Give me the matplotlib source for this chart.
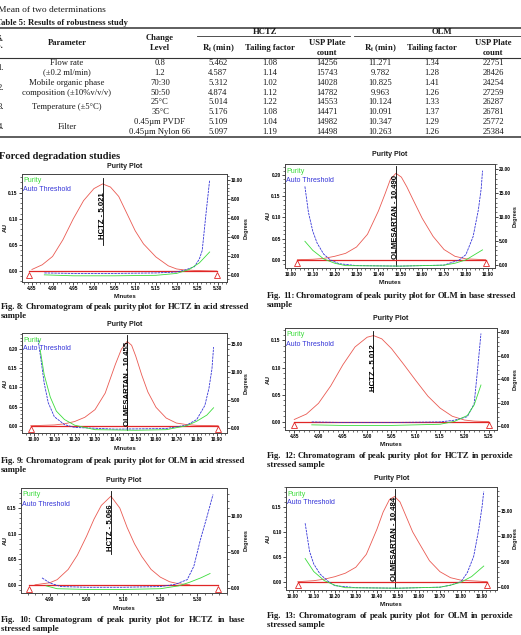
import matplotlib
matplotlib.use("Agg")
import matplotlib.pyplot as plt
from matplotlib.lines import Line2D
from matplotlib.ticker import AutoMinorLocator

W, H = 521, 635

# ---- Table 5 values ----
row_no = ["1.", "2.", "3.", "4."]
parameters = ["Flow rate", "(±0.2 ml/min)", "Mobile organic phase", "composition (±10%v/v/v)",
              "Temperature (±5°C)", "Filter"]
change_level = ["0.8", "1.2", "70:30", "50:50", "25°C", "35°C", "0.45µm PVDF", "0.45µm Nylon 66"]
hctz_rt = ["5.462", "4.587", "5.312", "4.874", "5.014", "5.176", "5.109", "5.097"]
hctz_tailing = ["1.08", "1.14", "1.02", "1.12", "1.22", "1.08", "1.04", "1.19"]
hctz_plates = ["14256", "15743", "14028", "14782", "14553", "14471", "14982", "14498"]
olm_rt = ["11.271", "9.782", "10.825", "9.963", "10.124", "10.091", "10.347", "10.263"]
olm_tailing = ["1.34", "1.28", "1.41", "1.26", "1.33", "1.37", "1.29", "1.26"]
olm_plates = ["22751", "28426", "24254", "27259", "26287", "26781", "25772", "25384"]

# ---- Fig. 8 HCTZ acid ----
f8_peak_x = [4.850, 4.875, 4.900, 4.925, 4.950, 4.975, 5.000, 5.021, 5.040, 5.060, 5.080, 5.100,
             5.120, 5.150, 5.180, 5.200, 5.220, 5.250, 5.297]
f8_peak_y = [0.003, 0.012, 0.028, 0.060, 0.100, 0.135, 0.158, 0.167, 0.161, 0.143, 0.110, 0.077,
             0.052, 0.027, 0.010, 0.004, 0.002, 0.001, 0.000]
f8_thr_x = [4.880, 4.950, 5.050, 5.150, 5.200, 5.220, 5.243, 5.255, 5.262, 5.272, 5.280]
f8_thr_y = [0.25, 0.20, 0.20, 0.25, 0.35, 0.55, 0.90, 1.70, 2.60, 6.80, 10.0]
f8_pur_x = [4.880, 4.950, 5.050, 5.150, 5.200, 5.230, 5.255, 5.280]
f8_pur_y = [0.05, -0.05, -0.05, 0.00, 0.20, 0.60, 1.30, 2.45]
f8_ends = [4.844, 5.297]

# ---- Fig. 9 OLM acid ----
f9_peak_x = [9.984, 10.10, 10.15, 10.20, 10.25, 10.30, 10.35, 10.40, 10.43, 10.458, 10.48, 10.50,
             10.53, 10.56, 10.60, 10.65, 10.70, 10.75, 10.80, 10.905]
f9_peak_y = [0.000, 0.002, 0.005, 0.011, 0.022, 0.042, 0.085, 0.160, 0.200, 0.220, 0.210, 0.182,
             0.132, 0.088, 0.048, 0.020, 0.007, 0.003, 0.001, 0.000]
f9_thr_x = [10.020, 10.035, 10.050, 10.070, 10.100, 10.150, 10.200, 10.400, 10.650, 10.750, 10.800,
            10.840, 10.860, 10.875, 10.883]
f9_thr_y = [15.7, 12.0, 8.0, 4.5, 2.0, 0.6, 0.1, -0.2, -0.1, 0.5, 1.5, 4.0, 7.0, 10.5, 14.4]
f9_pur_x = [10.030, 10.050, 10.080, 10.110, 10.150, 10.200, 10.300, 10.500, 10.650, 10.750, 10.800,
            10.850, 10.883]
f9_pur_y = [14.0, 9.5, 5.5, 3.0, 1.5, 0.5, -0.3, -0.4, -0.3, 0.4, 1.2, 2.3, 3.6]
f9_ends = [9.984, 10.905]

# ---- Fig. 10 HCTZ base ----
f10_peak_x = [4.860, 4.900, 4.920, 4.950, 4.975, 5.000, 5.020, 5.040, 5.066, 5.090, 5.110, 5.130,
              5.150, 5.175, 5.200, 5.225, 5.250, 5.280]
f10_peak_y = [0.000, 0.004, 0.010, 0.030, 0.058, 0.095, 0.128, 0.155, 0.173, 0.150, 0.112, 0.080,
              0.055, 0.030, 0.015, 0.006, 0.002, 0.000]
f10_thr_x = [4.879, 4.900, 4.930, 5.000, 5.100, 5.200, 5.240, 5.273, 5.291, 5.309, 5.327, 5.343]
f10_thr_y = [1.4, 0.7, 0.2, 0.1, 0.1, 0.2, 0.5, 1.15, 3.0, 6.7, 9.9, 12.9]
f10_pur_x = [4.890, 4.920, 5.000, 5.100, 5.200, 5.250, 5.280, 5.310, 5.335]
f10_pur_y = [0.3, -0.1, -0.2, -0.2, -0.1, 0.3, 0.8, 1.4, 2.0]
f10_ends = [4.845, 5.356]

# ---- Fig. 11 OLM base ----
f11_peak_x = [10.030, 10.100, 10.150, 10.200, 10.250, 10.300, 10.350, 10.400, 10.430, 10.455,
              10.480, 10.505, 10.530, 10.560, 10.600, 10.650, 10.700, 10.750, 10.800, 10.890]
f11_peak_y = [0.000, 0.001, 0.003, 0.008, 0.015, 0.030, 0.060, 0.115, 0.155, 0.190,
              0.204, 0.195, 0.172, 0.140, 0.098, 0.055, 0.024, 0.008, 0.002, 0.000]
f11_thr_x = [10.064, 10.080, 10.100, 10.120, 10.150, 10.180, 10.220, 10.300, 10.500, 10.700,
             10.770, 10.800, 10.833, 10.857, 10.870, 10.876]
f11_thr_y = [16.4, 11.0, 7.0, 4.5, 2.2, 1.0, 0.2, -0.2, -0.3, -0.1, 1.0, 2.1, 5.9, 11.5, 16.0, 19.7]
f11_pur_x = [10.064, 10.100, 10.150, 10.200, 10.250, 10.500, 10.700, 10.750, 10.800, 10.876]
f11_pur_y = [4.9, 3.0, 1.2, 0.3, -0.2, -0.3, -0.1, 0.3, 1.0, 3.1]
f11_ends = [10.030, 10.890]

# ---- Fig. 12 HCTZ peroxide ----
f12_peak_x = [4.850, 4.875, 4.900, 4.925, 4.950, 4.975, 5.000, 5.013, 5.030, 5.050, 5.075, 5.100,
              5.125, 5.150, 5.175, 5.200, 5.220, 5.250]
f12_peak_y = [0.004, 0.014, 0.034, 0.066, 0.105, 0.138, 0.156, 0.159, 0.153, 0.135, 0.106, 0.076,
              0.047, 0.025, 0.010, 0.003, 0.001, 0.000]
f12_thr_x = [4.886, 4.950, 5.050, 5.150, 5.180, 5.206, 5.220, 5.227, 5.234]
f12_thr_y = [0.35, 0.30, 0.30, 0.35, 0.50, 0.80, 1.90, 4.80, 7.90]
f12_pur_x = [4.886, 4.950, 5.050, 5.150, 5.180, 5.206, 5.220, 5.234]
f12_pur_y = [0.10, 0.05, 0.05, 0.15, 0.40, 0.90, 1.80, 3.50]
f12_ends = [4.850, 5.250]

# ---- Fig. 13 OLM peroxide ----
f13_peak_x = [10.024, 10.100, 10.150, 10.200, 10.250, 10.300, 10.350, 10.400, 10.430, 10.460,
              10.484, 10.510, 10.540, 10.570, 10.600, 10.650, 10.700, 10.750, 10.800, 10.924]
f13_peak_y = [0.000, 0.002, 0.005, 0.010, 0.017, 0.029, 0.055, 0.105, 0.140, 0.165,
              0.171, 0.160, 0.130, 0.100, 0.078, 0.042, 0.020, 0.008, 0.003, 0.000]
f13_thr_x = [10.059, 10.080, 10.100, 10.130, 10.170, 10.200, 10.300, 10.500, 10.700, 10.750,
             10.800, 10.830, 10.860, 10.884, 10.900, 10.908]
f13_thr_y = [12.6, 7.0, 4.5, 2.5, 1.0, 0.2, -0.2, -0.3, -0.1, 0.3, 1.0, 2.8, 6.0, 11.3, 15.9, 18.9]
f13_pur_x = [10.059, 10.100, 10.150, 10.200, 10.250, 10.500, 10.700, 10.750, 10.800, 10.850, 10.908]
f13_pur_y = [5.6, 3.0, 1.2, 0.3, -0.2, -0.3, -0.1, 0.3, 0.9, 2.0, 4.1]
f13_ends = [10.024, 10.924]

SERIF = ["Liberation Serif", "DejaVu Serif"]
NARROW = ["Liberation Sans Narrow", "Liberation Sans", "DejaVu Sans"]
plt.rcParams["mathtext.fontset"] = "stix"


def fx(x):
    return x / W


def fy(y):
    return 1 - y / H


fig = plt.figure(figsize=(W / 100, H / 100), dpi=100)
fig.patch.set_facecolor("white")


def put(x, y, s, size=6.2, weight="normal", ha="center", family=SERIF, color="#1a1a1a", **kw):
    return fig.text(fx(x), fy(y), s, fontsize=size, fontweight=weight, ha=ha, va="center",
                    family=family, color=color, **kw)


def hline(y, x0, x1, lw=0.8):
    fig.add_artist(Line2D([fx(x0), fx(x1)], [fy(y), fy(y)], transform=fig.transFigure,
                          color="#333333", lw=lw))


def justify(s, x0, x1, y, size, weight="bold"):
    # spread the words of a caption line over the full column width
    words = s.split()
    texts = [put(0, y, w, size=size, weight=weight, ha="left") for w in words]
    rend = fig.canvas.get_renderer()
    widths = [t.get_window_extent(rend).width for t in texts]
    gap = max((x1 - x0 - sum(widths)) / (len(words) - 1), 1.5)
    x = x0
    for t, w in zip(texts, widths):
        t.set_x(fx(x))
        x += w + gap


CAP = 6.3

# page text above the table
put(-2, 10, "Mean of two determinations", size=6.8, ha="left")
put(-4, 23, "Table 5: Results of robustness study", size=6.2, weight="bold", ha="left")

# table rules
hline(28.3, 0, W, lw=1.1)
hline(36, 197, 350, lw=0.6)
hline(36, 354, W, lw=0.6)
hline(57.7, 0, W, lw=0.8)
hline(137.3, 0, W, lw=1.1)

# table header
hb = dict(size=6.2, weight="bold")
put(3, 39, "S.", ha="right", **hb)
put(4, 46, "No.", ha="right", **hb)
put(67, 43.3, "Parameter", **hb)
put(160, 38.3, "Change", **hb)
put(160, 48.3, "Level", **hb)
put(265, 32, "HCTZ", **hb)
put(442, 32, "OLM", **hb)
rt_label = r"$\mathbf{R_t}$ (min)"
for cx, ccx, ucx in [(218, 270, 327), (380, 432, 493)]:
    put(cx, 48.3, rt_label, **hb)
    put(ccx, 48.3, "Tailing factor", **hb)
    put(ucx, 43.3, "USP Plate", **hb)
    put(ucx, 52.7, "count", **hb)

# table body
row_y = [62.7 + 9.94 * i for i in range(8)]
for i, s in enumerate(row_no):
    put(4, (row_y[2 * i] + row_y[2 * i + 1]) / 2, s, ha="right")
param_y = [row_y[0], row_y[1], row_y[2], row_y[3], (row_y[4] + row_y[5]) / 2, (row_y[6] + row_y[7]) / 2]
for s, y in zip(parameters, param_y):
    put(67, y, s)
for col, cx in [(change_level, 160), (hctz_rt, 218), (hctz_tailing, 270), (hctz_plates, 327),
                (olm_rt, 380), (olm_tailing, 432), (olm_plates, 493)]:
    for s, y in zip(col, row_y):
        put(cx, y, s)

put(-1, 156, "Forced degradation studies", size=7.6, weight="bold", ha="left")

panels = [
    dict(rect=(22, 174, 227, 282), xlim=(4.826, 5.322), ylim=(-0.021, 0.186), y2lim=(-0.70, 10.63),
         xt=[4.85 + 0.05 * i for i in range(10)], yt=[0, 0.05, 0.10, 0.15], yfmt="%.2f",
         y2t=[0, 2, 4, 6, 8, 10], peak=(f8_peak_x, f8_peak_y), thr=(f8_thr_x, f8_thr_y),
         pur=(f8_pur_x, f8_pur_y), ends=f8_ends, label="HCTZ - 5.021", lx=5.021, ly=0.107,
         line=(0.05, 0.178), title_y=166, col=0,
         cap=("Fig. 8: Chromatogram of peak purity plot for HCTZ in acid stressed", "sample"), cap_y=307),
    dict(rect=(22, 333, 227, 433), xlim=(9.941, 10.949), ylim=(-0.019, 0.242), y2lim=(-0.89, 16.9),
         xt=[10.0 + 0.1 * i for i in range(10)], yt=[0, 0.05, 0.10, 0.15, 0.20], yfmt="%.2f",
         y2t=[0, 5, 10, 15], peak=(f9_peak_x, f9_peak_y), thr=(f9_thr_x, f9_thr_y),
         pur=(f9_pur_x, f9_pur_y), ends=f9_ends, label="OLMESARTAN - 10.455", lx=10.458, ly=0.108,
         line=(-0.012, 0.236), title_y=325, col=0,
         cap=("Fig. 9: Chromatogram of peak purity plot for OLM in acid stressed", "sample"), cap_y=461),
    dict(rect=(21, 488, 227, 593), xlim=(4.822, 5.381), ylim=(-0.016, 0.189), y2lim=(-0.69, 13.8),
         xt=[4.9 + 0.1 * i for i in range(5)], yt=[0, 0.05, 0.10, 0.15], yfmt="%.2f",
         y2t=[0, 5, 10], peak=(f10_peak_x, f10_peak_y), thr=(f10_thr_x, f10_thr_y),
         pur=(f10_pur_x, f10_pur_y), ends=f10_ends, label="HCTZ - 5.066", lx=5.066, ly=0.112,
         line=(0.06, 0.183), title_y=481, col=0,
         cap=("Fig. 10: Chromatogram of peak purity plot for HCTZ in base", "stressed sample"), cap_y=620),
    dict(rect=(285, 164, 495, 268), xlim=(9.973, 10.933), ylim=(-0.0196, 0.226), y2lim=(-0.7, 21.1),
         xt=[10.0 + 0.1 * i for i in range(10)], yt=[0, 0.05, 0.10, 0.15, 0.20], yfmt="%.2f",
         y2t=[0, 5, 10, 15, 20], peak=(f11_peak_x, f11_peak_y), thr=(f11_thr_x, f11_thr_y),
         pur=(f11_pur_x, f11_pur_y), ends=f11_ends, label="OLMESARTAN - 10.490", lx=10.48, ly=0.10,
         line=(-0.015, 0.222), title_y=155, col=1,
         cap=("Fig. 11: Chromatogram of peak purity plot for OLM in base stressed", "sample"), cap_y=296),
    dict(rect=(285, 328, 497, 430), xlim=(4.831, 5.267), ylim=(-0.0154, 0.173), y2lim=(-0.34, 8.37),
         xt=[4.85 + 0.05 * i for i in range(9)], yt=[0, 0.05, 0.10, 0.15], yfmt="%.2f",
         y2t=[0, 2, 4, 6, 8], peak=(f12_peak_x, f12_peak_y), thr=(f12_thr_x, f12_thr_y),
         pur=(f12_pur_x, f12_pur_y), ends=f12_ends, label="HCTZ - 5.012", lx=5.013, ly=0.10,
         line=(0.055, 0.168), title_y=318, col=1,
         cap=("Fig. 12: Chromatogram of peak purity plot for HCTZ in peroxide", "stressed sample"), cap_y=456),
    dict(rect=(286, 487, 497, 590), xlim=(9.968, 10.971), ylim=(-0.0167, 0.19), y2lim=(-0.66, 19.8),
         xt=[10.0 + 0.1 * i for i in range(10)], yt=[0, 0.05, 0.10, 0.15], yfmt="%.2f",
         y2t=[0, 5, 10, 15], peak=(f13_peak_x, f13_peak_y), thr=(f13_thr_x, f13_thr_y),
         pur=(f13_pur_x, f13_pur_y), ends=f13_ends, label="OLMESARTAN - 10.484", lx=10.484, ly=0.085,
         line=(-0.012, 0.185), title_y=478, col=1,
         cap=("Fig. 13: Chromatogram of peak purity plot for OLM in peroxide", "stressed sample"), cap_y=616),
]

RED, PEAK_RED, BLUE, GREEN = "#e02626", "#ea5a52", "#3434d8", "#3cdc3c"

for p in panels:
    l, t, r, b = p["rect"]
    ax = fig.add_axes([fx(l), fy(b), (r - l) / W, (b - t) / H])
    ax2 = ax.twinx()
    ax.set_xlim(*p["xlim"])
    ax.set_ylim(*p["ylim"])
    ax2.set_ylim(*p["y2lim"])

    x0, x1 = p["ends"]
    span = p["ylim"][1] - p["ylim"][0]
    ax.plot([x0, x1], [0, 0], color=RED, lw=0.9, zorder=3)
    ax.plot([x0, x1], [-0.036 * span] * 2, ls="none", marker="^", ms=4, mfc="none",
            mec=RED, mew=0.6, zorder=3)
    ax.plot(*p["peak"], color=PEAK_RED, lw=0.6)
    ax.plot([p["lx"], p["lx"]], list(p["line"]), color="black", lw=0.6)
    ax.text(p["lx"], p["ly"], p["label"], rotation=90, ha="center", va="center", fontsize=5.6,
            fontweight="bold", family=NARROW, color="black")
    ax2.plot(*p["thr"], color=BLUE, lw=0.6, ls=(0, (3, 1)))
    ax2.plot(*p["pur"], color=GREEN, lw=0.6)

    ax2.text(0.005, 1 - 7 / (b - t), "Purity", transform=ax2.transAxes, color=GREEN, fontsize=5,
             family=NARROW, va="center", ha="left")
    ax2.text(0.005, 1 - 16 / (b - t), "Auto Threshold", transform=ax2.transAxes, color=BLUE,
             fontsize=5, family=NARROW, va="center", ha="left")

    ax.set_xticks(p["xt"])
    ax.set_xticklabels(["%.2f" % v for v in p["xt"]])
    ax.set_yticks(p["yt"])
    ax.set_yticklabels([p["yfmt"] % v for v in p["yt"]])
    ax2.set_yticks(p["y2t"])
    ax2.set_yticklabels(["%.2f" % v for v in p["y2t"]])
    ax.xaxis.set_minor_locator(AutoMinorLocator(5))
    ax.yaxis.set_minor_locator(AutoMinorLocator(5))
    ax2.yaxis.set_minor_locator(AutoMinorLocator(5))
    for a in (ax, ax2):
        a.tick_params(which="major", direction="out", length=2.2, width=0.5, labelsize=3.4, pad=0.8)
        a.tick_params(which="minor", direction="out", length=1.2, width=0.4)
        for lab in a.get_xticklabels() + a.get_yticklabels():
            lab.set_family(NARROW)
            lab.set_fontweight("bold")
        for s in a.spines.values():
            s.set_linewidth(0.6)
            s.set_color("#444444")

    cx = (l + r) / 2
    put(cx, p["title_y"], "Purity Plot", size=5, weight="bold", family=NARROW)
    put(cx, b + 15, "Minutes", size=4.3, weight="bold", family=NARROW)
    ax_x = 5 if p["col"] == 0 else 268
    deg_x = 246 if p["col"] == 0 else 515
    put(ax_x, (t + b) / 2, "AU", size=4.5, weight="bold", family=NARROW, rotation=90)
    put(deg_x, (t + b) / 2, "Degrees", size=4.0, weight="bold", family=NARROW, rotation=90)

    cap_x0, cap_x1 = (1, 245) if p["col"] == 0 else (267, 514)
    justify(p["cap"][0], cap_x0, cap_x1, p["cap_y"], CAP)
    put(cap_x0, p["cap_y"] + 9, p["cap"][1], size=CAP, weight="bold", ha="left")

fig.savefig("out.png", dpi=100, facecolor="white")
